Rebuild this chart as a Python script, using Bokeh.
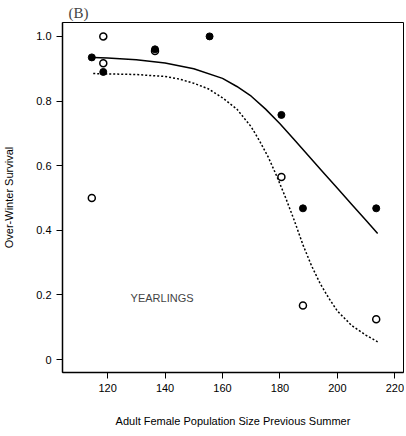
from bokeh.plotting import figure
from bokeh.models import Range1d, FixedTicker, Label
from bokeh.embed import file_html
from bokeh.resources import INLINE

# fitted curves
solid_x = [115, 120, 130, 140, 150, 160, 165, 170, 175, 180, 185, 190, 195, 200, 205, 210, 214]
solid_y = [0.935, 0.933, 0.928, 0.918, 0.90, 0.87, 0.845, 0.815, 0.775, 0.73, 0.68, 0.63, 0.58, 0.53, 0.48, 0.43, 0.39]
dash_x = [115, 120, 130, 140, 145, 150, 155, 160, 165, 170, 173, 176, 179, 182, 185, 188, 191, 194, 197, 200, 205, 210, 214]
dash_y = [0.885, 0.884, 0.882, 0.876, 0.868, 0.855, 0.838, 0.81, 0.775, 0.72, 0.675, 0.625, 0.565, 0.50, 0.43, 0.355, 0.29, 0.235, 0.19, 0.15, 0.105, 0.075, 0.055]

# observed survival
filled_x = [114.5, 118.5, 136.5, 155.5, 180.5, 188, 213.5]
filled_y = [0.935, 0.89, 0.96, 1.0, 0.757, 0.468, 0.468]
open_x = [114.5, 118.5, 118.5, 136.5, 180.5, 188, 213.5]
open_y = [0.5, 1.0, 0.917, 0.955, 0.565, 0.167, 0.125]

x_ticks = [120, 140, 160, 180, 200, 220]
y_ticks = [0, 0.2, 0.4, 0.6, 0.8, 1.0]

p = figure(width=404, height=429, output_backend="svg", toolbar_location=None,
           x_range=Range1d(104.3, 223), y_range=Range1d(-0.04, 1.043),
           min_border_left=61, min_border_right=1, min_border_top=0, min_border_bottom=55,
           title="(B)")
p.title.text_font = "Liberation Serif"
p.title.text_font_size = "15px"
p.title.text_font_style = "normal"
p.title.align = "left"
p.title.offset = 6
p.title.standoff = 4
p.grid.visible = False
p.outline_line_color = "black"
p.outline_line_width = 1

p.line(solid_x, solid_y, line_color="black", line_width=1.5)
p.line(dash_x, dash_y, line_color="black", line_width=1.5, line_dash="2 2")
p.scatter(open_x, open_y, size=7, fill_color="white", line_color="black", line_width=1.5)
p.scatter(filled_x, filled_y, size=7, fill_color="black", line_color="black")

for ax in (p.xaxis, p.yaxis):
    ax.major_tick_in = 0
    ax.major_tick_out = 6
    ax.minor_tick_line_color = None
    ax.axis_line_width = 1.5
    ax.major_label_text_font = "Liberation Sans"
    ax.major_label_text_font_size = "11px"
    ax.major_label_text_color = "black"
    ax.axis_label_text_font = "Liberation Sans"
    ax.axis_label_text_font_style = "normal"
    ax.axis_label_text_font_size = "11px"
    ax.axis_label_text_color = "black"
p.xaxis.ticker = FixedTicker(ticks=x_ticks)
p.yaxis.ticker = FixedTicker(ticks=y_ticks)
p.yaxis.major_label_overrides = {0: "0", 0.2: "0.2", 0.4: "0.4", 0.6: "0.6", 0.8: "0.8", 1.0: "1.0"}
p.xaxis.axis_label = "Adult Female Population Size Previous Summer"
p.yaxis.axis_label = "Over-Winter Survival"
p.xaxis.axis_label_standoff = 20
p.yaxis.axis_label_standoff = 18

p.add_layout(Label(x=128, y=0.19, text="YEARLINGS", text_font="Liberation Sans",
                   text_font_size="11px", text_baseline="middle"))

open("out.html", "w").write(file_html(p, INLINE))
